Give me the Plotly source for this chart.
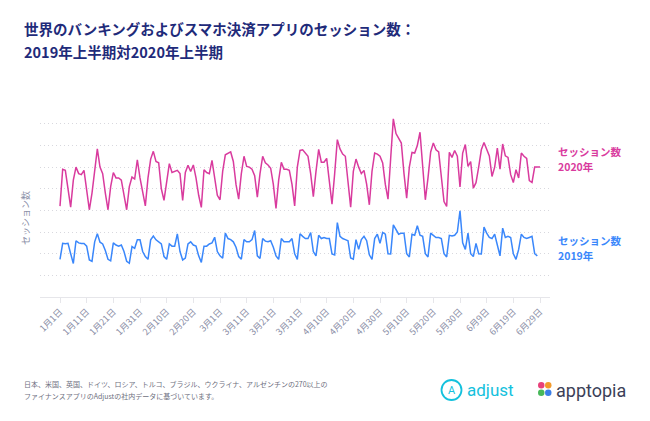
import pandas as pd
import plotly.graph_objects as go

# ---------------- data ----------------
start_date = "2020-01-01"
sessions_2020 = [
    42, 59, 58.5, 50, 41.5, 54, 60,
    57, 56.5, 58.5, 49.5, 40.3, 48, 58,
    68.4, 60, 57, 48, 40.3, 51, 57.5,
    55, 55, 54, 47, 40.3, 51, 55.4,
    54.5, 63.4, 55, 48, 42.1, 55, 63.7,
    67.3, 62.6, 62, 50, 44.6, 54, 61.6,
    57.5, 58, 58.5, 57, 44.6, 57.5, 60.9,
    58, 61, 55, 47, 41.4, 58.8, 57.5,
    57, 63.1, 55, 47, 44.9, 58, 65.7,
    66.5, 67, 62.6, 52, 45.2, 57, 65,
    60.3, 60, 59, 56, 46.1, 57, 65,
    62, 61, 59.5, 52, 40.9, 54, 62.2,
    59, 59, 58.5, 52, 42.1, 60, 67.7,
    68, 66.5, 65, 57, 46.4, 58, 68.2,
    62.3, 62.3, 64, 52, 42.9, 57, 72.7,
    68.4, 66, 65, 54, 41.5, 58, 63.7,
    60, 57, 58.5, 52, 42.6, 58, 66.5,
    66, 65, 61.9, 52, 45.2, 64, 82.3,
    75.5, 73, 71.1, 57, 45.7, 60, 66.8,
    66.5, 70, 76.1, 58, 44.9, 55, 67,
    71.1, 68, 67, 56, 44.1, 41.8, 66.8,
    64.5, 67.7, 65, 50.8, 66.5, 70.4, 60.3,
    62.6, 50.3, 52.8, 60, 68, 71.4, 68,
    65.2, 55.7, 60, 68.8, 59.1, 70.7, 65.2,
    64.5, 56.5, 52.9, 58.8, 55, 66.5, 65,
    64, 53.8, 52.9, 60, 60, 60,
]
sessions_2019 = [
    17.4, 24.8, 24.6, 24.8, 20.0, 15.5, 26.0,
    25.0, 24.7, 24.7, 23.5, 17.1, 16.5, 25.5,
    29.2, 25.3, 24.5, 21.5, 17.4, 16.7, 25.0,
    24.0, 23.5, 24.0, 21.0, 16.5, 15.6, 23.3,
    22.5, 26.4, 26.4, 21.0, 18.7, 17.4, 26.4,
    28.2, 26.4, 25.5, 24.5, 18.7, 17.4, 24.5,
    23.5, 23.5, 29.2, 21.0, 17.1, 18.0, 24.5,
    25.5, 24.0, 23.5, 19.0, 16.0, 23.5, 23.5,
    24.5, 25.0, 27.6, 21.0, 19.0, 17.9, 29.5,
    27.0, 26.5, 25.5, 23.0, 18.7, 17.5, 26.5,
    25.5, 25.5, 26.5, 30.7, 19.0, 17.8, 27.0,
    25.8, 25.5, 26.0, 23.0, 19.0, 17.4, 27.0,
    25.5, 25.5, 25.5, 27.0, 20.0, 17.4, 29.2,
    28.0, 27.0, 27.0, 29.8, 21.0, 19.0, 28.5,
    27.0, 27.5, 27.0, 27.0, 19.9, 19.4, 34.4,
    28.0, 27.0, 26.5, 26.0, 18.0, 17.5, 26.5,
    22.0, 26.5, 28.0, 26.0, 19.5, 17.4, 27.0,
    29.0, 24.8, 29.8, 29.0, 20.0, 19.9, 33.3,
    31.0, 29.0, 29.5, 29.5, 20.0, 18.5, 29.0,
    28.5, 32.9, 28.5, 28.0, 20.0, 18.5, 29.5,
    28.5, 27.5, 27.5, 27.0, 20.0, 18.5, 28.5,
    28.2, 28.5, 30.0, 39.8, 25.0, 22.0, 29.5,
    20.0, 18.7, 24.8, 20.0, 19.9, 32.3, 29.5,
    27.5, 27.0, 29.0, 24.0, 19.0, 31.8, 27.5,
    28.0, 27.5, 20.0, 17.4, 22.0, 29.0, 27.5,
    27.0, 27.5, 28.0, 20.0, 19.0,
]
tick_labels = ["1月1日", "1月11日", "1月21日", "1月31日", "2月10日", "2月20日",
               "3月1日", "3月11日", "3月21日", "3月31日", "4月10日", "4月20日",
               "4月30日", "5月10日", "5月20日", "5月30日", "6月9日", "6月19日", "6月29日"]
series_names = ["セッション数 2020年", "セッション数 2019年"]

dates = pd.date_range(start_date, periods=len(sessions_2020), freq="D")
tick_dates = dates[::10]

PINK = "#d93b9e"
BLUE = "#3a87fb"

# page offset (default body margin) compensation
OFF = 8
W, H = 650, 421
# target plot area in screenshot pixels
L, R, T, B = 40, 550, 113, 297


def px(x):
    return (x - L) / (R - L)


def py(y):
    return (B - y) / (B - T)


fig = go.Figure()
fig.add_trace(go.Scatter(x=dates, y=sessions_2020, mode="lines", name=series_names[0],
                         line=dict(color=PINK, width=1.5)))
fig.add_trace(go.Scatter(x=dates[:len(sessions_2019)], y=sessions_2019, mode="lines",
                         name=series_names[1], line=dict(color=BLUE, width=1.5)))

x0 = dates[0] - pd.Timedelta(days=7.5)
x1 = dates[-1] + pd.Timedelta(days=3.75)

fig.update_layout(
    width=W, height=H,
    margin=dict(l=L - OFF, r=W - (R - OFF), t=T - OFF, b=H - (B - OFF), pad=0),
    paper_bgcolor="white", plot_bgcolor="white",
    showlegend=False,
    font=dict(family="Noto Sans CJK JP", color="#8a8ea6"),
)
fig.update_xaxes(
    range=[x0, x1], tickmode="array", tickvals=tick_dates, ticktext=tick_labels,
    tickangle=-45, tickfont=dict(size=9, color="#8a8ea6"),
    showgrid=False, showline=True, linecolor="#e6e6ea", linewidth=1,
    ticks="outside", ticklen=5, tickcolor="#e6e6ea", zeroline=False,
)
fig.update_yaxes(
    range=[0, 85], dtick=10, showticklabels=False, showgrid=True,
    gridcolor="#d8d8de", griddash="1px,3px", gridwidth=1, zeroline=False, showline=False,
)


def label(x, y, text, size, color, anchor="left", family="Noto Sans CJK JP", angle=0):
    return dict(x=px(x), y=py(y), xref="paper", yref="paper", xanchor=anchor, yanchor="middle",
                text=text, showarrow=False, align="left", textangle=angle,
                font=dict(size=size, color=color, family=family))


ann = [
    label(22, 28, "<b>世界のバンキングおよびスマホ決済アプリのセッション数：</b>", 14.5, "#1f2b7a"),
    label(22, 52, "<b>2019年上半期対2020年上半期</b>", 14.5, "#1f2b7a"),
    label(25, 218, "セッション数", 9, "#8a8ea6", anchor="center", angle=-90),
    label(556, 151, "<b>セッション数</b>", 10.5, PINK),
    label(556, 166, "<b>2020年</b>", 10.5, PINK),
    label(556, 240, "<b>セッション数</b>", 10.5, BLUE),
    label(556, 255, "<b>2019年</b>", 10.5, BLUE),
    label(22, 384, "日本、米国、英国、ドイツ、ロシア、トルコ、ブラジル、ウクライナ、アルゼンチンの270以上の",
          7.0, "#6e7080"),
    label(22, 396, "ファイナンスアプリのAdjustの社内データに基づいています。", 7.0, "#6e7080"),
    label(465, 390, "adjust", 17, "#14c1dd", family="Roboto"),
    label(451.5, 390, "A", 11, "#14c1dd", anchor="center", family="Roboto"),
    label(554, 390, "apptopia", 18, "#3c3f58", family="Roboto"),
]

shapes = [
    dict(type="circle", xref="paper", yref="paper", x0=px(441.5), x1=px(461.5), y0=py(380), y1=py(400),
         line=dict(color="#14c1dd", width=1.8)),
    dict(type="circle", xref="paper", yref="paper", x0=px(538), x1=px(544.5), y0=py(382), y1=py(388.5),
         fillcolor="#e8417a", line=dict(width=0)),
    dict(type="circle", xref="paper", yref="paper", x0=px(545), x1=px(551.5), y0=py(382), y1=py(388.5),
         fillcolor="#f39a2b", line=dict(width=0)),
    dict(type="circle", xref="paper", yref="paper", x0=px(538), x1=px(544.5), y0=py(389.5), y1=py(396),
         fillcolor="#48b85a", line=dict(width=0)),
    dict(type="circle", xref="paper", yref="paper", x0=px(545), x1=px(551.5), y0=py(389.5), y1=py(396),
         fillcolor="#3a7ee8", line=dict(width=0)),
]
fig.update_layout(annotations=ann, shapes=shapes)

fig.write_html("out.html")
